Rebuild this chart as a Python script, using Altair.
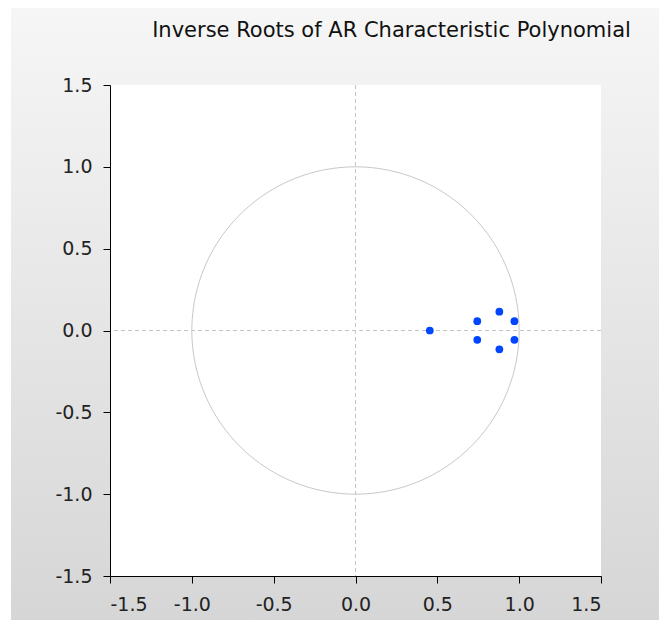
import altair as alt
import pandas as pd

# ---- data ----
root_re = [0.454, 0.744, 0.744, 0.879, 0.879, 0.971, 0.971]
root_im = [0.000, 0.057, -0.057, 0.115, -0.115, 0.057, -0.057]
tick_values = [-1.5, -1.0, -0.5, 0.0, 0.5, 1.0, 1.5]
axis_domain = [-1.5, 1.5]
zero_line = [0.0]
title_text = "Inverse Roots of AR Characteristic Polynomial"

W, H = 491, 491
PL, PT, PR, PB = 102, 77, 58, 44

roots = pd.DataFrame({"re": root_re, "im": root_im})
zero_df = pd.DataFrame({"v": zero_line})
one = pd.DataFrame({"a": [0]})
title_df = pd.DataFrame({"t": [title_text]})

xscale = alt.Scale(domain=axis_domain, nice=False, zero=False)
yscale = alt.Scale(domain=axis_domain, nice=False, zero=False)

label_expr = "replace(format(datum.value, '.1f'), '\u2212', '-')"
axis_common = dict(
    values=tick_values, labelExpr=label_expr, title=None, grid=False,
    domainColor="black", tickColor="black", tickSize=7, domainWidth=1,
    labelFont="DejaVu Sans", labelFontSize=19, labelColor="#222222",
    zindex=1,
)

grad = alt.Gradient(
    gradient="linear",
    stops=[alt.GradientStop(color="#f6f6f6", offset=0),
           alt.GradientStop(color="#d6d6d6", offset=1)],
    x1=0, x2=0, y1=0, y2=1,
)

bg = alt.Chart(one).mark_rect(clip=False, color=grad).encode(
    x=alt.value(-PL + 3), x2=alt.value(W + PR), y=alt.value(-PT), y2=alt.value(H + PB)
)
plot_bg = alt.Chart(one).mark_rect(color="white").encode(
    x=alt.value(0), x2=alt.value(W), y=alt.value(0), y2=alt.value(H)
)

title = alt.Chart(title_df).mark_text(
    font="DejaVu Sans", fontSize=21, color="#111111", align="center",
    baseline="alphabetic", clip=False,
).encode(text="t:N", x=alt.value(W / 2 + 36), y=alt.value(-48))

vline = alt.Chart(zero_df).mark_rule(color="#c4c4c4", strokeDash=[4, 3], strokeWidth=1).encode(
    x=alt.X("v:Q", scale=xscale)
)
hline = alt.Chart(zero_df).mark_rule(color="#c4c4c4", strokeDash=[4, 3], strokeWidth=1).encode(
    y=alt.Y("v:Q", scale=yscale)
)

circle = (
    alt.Chart(alt.sequence(0, 361, 2, as_="deg"))
    .transform_calculate(cx="cos(datum.deg*PI/180)", cy="sin(datum.deg*PI/180)")
    .mark_line(color="#c8c8c8", strokeWidth=1)
    .encode(
        x=alt.X("cx:Q", scale=xscale),
        y=alt.Y("cy:Q", scale=yscale),
        order="deg:Q",
    )
)

points = alt.Chart(roots).mark_point(filled=True, shape="circle", size=60, color="#0046ff", opacity=1).encode(
    x=alt.X("re:Q", scale=xscale, axis=alt.Axis(labelPadding=12, **axis_common)),
    y=alt.Y("im:Q", scale=yscale, axis=alt.Axis(labelPadding=11, **axis_common)),
)

chart = (
    alt.layer(bg, plot_bg, title, vline, hline, circle, points)
    .properties(
        width=W, height=H,
        padding={"left": PL, "top": PT, "right": PR, "bottom": PB},
        autosize=alt.AutoSizeParams(type="none"),
    )
    .configure_view(stroke="black", strokeWidth=1)
    .configure(background="white")
)

chart.save("out.html", embed_options={"renderer": "svg", "actions": False})
